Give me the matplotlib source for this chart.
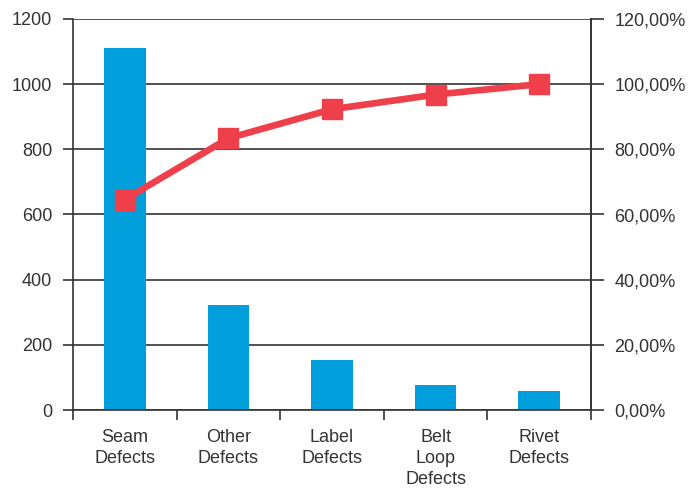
import matplotlib.pyplot as plt
import numpy as np

plt.rcParams['font.family'] = ['Liberation Sans', 'DejaVu Sans']

# datos del gráfico de Pareto
categorias = ["Seam\nDefects", "Other\nDefects", "Label\nDefects", "Belt\nLoop\nDefects", "Rivet\nDefects"]
defectos = [1110, 322, 152, 77, 57]
acumulado = [64.6, 83.4, 92.3, 96.8, 100.0]
ticks_izq = [0, 200, 400, 600, 800, 1000, 1200]
ticks_der = [0, 20, 40, 60, 80, 100, 120]

fig = plt.figure(figsize=(6.94, 4.9), dpi=100)
ax = fig.add_axes([73 / 694, 80 / 490, 518 / 694, 391 / 490])
ax2 = ax.twinx()

x = np.arange(len(categorias))
ax.bar(x, defectos, width=0.4, color="#009EDB", zorder=2)
ax.set_xlim(-0.5, len(categorias) - 0.5)
ax.set_ylim(0, 1200)
ax.set_yticks(ticks_izq)
ax.grid(axis="y", color="#333333", linewidth=1.2, zorder=0)

# marcas de las categorías en los bordes, etiquetas en el centro
ax.set_xticks(x)
ax.set_xticklabels(categorias, fontsize=13, color="#333333", linespacing=1.3)
ax.set_xticks(np.arange(-0.5, len(categorias)), minor=True)
ax.tick_params(axis="x", which="major", length=0, pad=14)
ax.tick_params(axis="x", which="minor", length=7, width=1.2, color="#333333")
ax.tick_params(axis="y", length=7, width=1.2, color="#333333", labelsize=13, labelcolor="#333333", pad=8)

for lado in ["left", "bottom", "right"]:
    ax.spines[lado].set_color("#333333")
    ax.spines[lado].set_linewidth(1.2)
ax.spines["top"].set_visible(False)

ax2.plot(x, acumulado, color="#EE3F4B", linewidth=4.8, marker="s", markersize=15, zorder=3)
ax2.set_ylim(0, 120)
ax2.set_yticks(ticks_der)
ax2.set_yticklabels([f"{t:.2f}%".replace(".", ",") for t in ticks_der])
ax2.tick_params(axis="y", length=9, width=1.2, color="#333333", labelsize=13, labelcolor="#333333", pad=8)
for lado in ["left", "bottom", "top"]:
    ax2.spines[lado].set_visible(False)
ax2.spines["right"].set_color("#333333")
ax2.spines["right"].set_linewidth(1.2)

plt.savefig("out.png", dpi=100)
